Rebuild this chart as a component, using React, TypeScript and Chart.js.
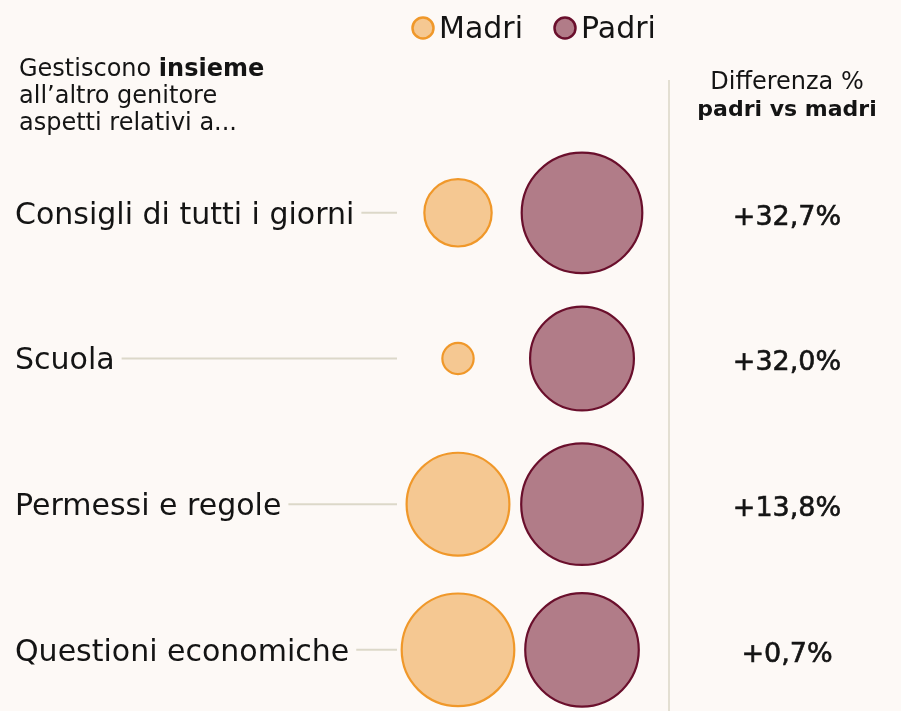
import React, { useEffect, useRef } from "react";
import { Chart, registerables } from "chart.js";

Chart.register(...registerables);

// ---- Data ----
const categories = [
  "Consigli di tutti i giorni",
  "Scuola",
  "Permessi e regole",
  "Questioni economiche",
];
const madri = [14.8, 3.2, 34.5, 41.4];
const padri = [47.5, 35.2, 48.3, 42.1];
const differenze = ["+32,7%", "+32,0%", "+13,8%", "+0,7%"];
const seriesNames = ["Madri", "Padri"];
const headerLeft = ["Gestiscono ", "insieme", "all\u2019altro genitore", "aspetti relativi a..."];
const headerRight = ["Differenza %", "padri vs madri"];

// ---- Style ----
const FONT = "'DejaVu Sans', sans-serif";
const BG = "#fdf9f6";
const TEXT = "#141414";
const K = 8.75; // bubble radius scale (area proportional to value)
const COLORS = {
  Madri: { fill: "#f5c892", stroke: "#f0982a" },
  Padri: { fill: "#b17c88", stroke: "#6a0f2c" },
};

const overlayPlugin = {
  id: "overlay",
  beforeDraw(chart: any) {
    const ctx = chart.ctx;
    ctx.save();
    ctx.fillStyle = BG;
    ctx.fillRect(0, 0, chart.width, chart.height);
    ctx.restore();
  },
  beforeDatasetsDraw(chart: any) {
    const ctx = chart.ctx;
    const ys = chart.scales.y;
    const area = chart.chartArea;
    ctx.save();

    // Left header
    ctx.fillStyle = TEXT;
    ctx.textAlign = "left";
    ctx.textBaseline = "alphabetic";
    ctx.font = `400 24px ${FONT}`;
    ctx.fillText(headerLeft[0], 19, 76);
    const w0 = ctx.measureText(headerLeft[0]).width;
    ctx.font = `700 24px ${FONT}`;
    ctx.fillText(headerLeft[1], 19 + w0, 76);
    ctx.font = `400 24px ${FONT}`;
    ctx.fillText(headerLeft[2], 19, 103);
    ctx.fillText(headerLeft[3], 19, 130);

    // Legend
    const legendX = [423, 565];
    seriesNames.forEach((name, i) => {
      const c = (COLORS as any)[name];
      ctx.beginPath();
      ctx.arc(legendX[i], 28, 10.5, 0, Math.PI * 2);
      ctx.fillStyle = c.fill;
      ctx.fill();
      ctx.lineWidth = 2.5;
      ctx.strokeStyle = c.stroke;
      ctx.stroke();
      ctx.fillStyle = TEXT;
      ctx.font = `400 30px ${FONT}`;
      ctx.textAlign = "left";
      ctx.fillText(name, legendX[i] + 16, 38);
    });

    // Right column divider and header
    const divX = area.right + 25;
    ctx.beginPath();
    ctx.moveTo(divX, 80);
    ctx.lineTo(divX, chart.height);
    ctx.lineWidth = 1.2;
    ctx.strokeStyle = "#d2cdbb";
    ctx.stroke();

    const colX = 787;
    ctx.textAlign = "center";
    ctx.fillStyle = TEXT;
    ctx.font = `400 24px ${FONT}`;
    ctx.fillText(headerRight[0], colX, 89);
    ctx.font = `700 22px ${FONT}`;
    ctx.fillText(headerRight[1], colX, 116);

    // Row labels, connectors, differences
    categories.forEach((cat, i) => {
      const py = ys.getPixelForValue(i);
      ctx.textAlign = "left";
      ctx.font = `400 30px ${FONT}`;
      ctx.fillStyle = TEXT;
      ctx.fillText(cat, 15, py + 11);
      const w = ctx.measureText(cat).width;
      ctx.beginPath();
      ctx.moveTo(15 + w + 7, py);
      ctx.lineTo(area.left + 1, py);
      ctx.lineWidth = 2;
      ctx.strokeStyle = "#dcd8c9";
      ctx.stroke();

      ctx.textAlign = "center";
      ctx.font = `500 27px ${FONT}`;
      ctx.fillText(differenze[i], colX, py + 12);
      ctx.lineWidth = 0.6;
      ctx.strokeStyle = TEXT;
      ctx.strokeText(differenze[i], colX, py + 12);
    });

    ctx.restore();
  },
};

export default function App() {
  const ref = useRef<HTMLCanvasElement | null>(null);

  useEffect(() => {
    document.body.style.margin = "0";
    document.body.style.background = BG;
    const canvas = ref.current;
    if (!canvas) return;
    const mk = (vals: number[], col: number) =>
      vals.map((v, i) => ({ x: col, y: i, r: K * Math.sqrt(v), v }));
    const chart = new Chart(canvas, {
      type: "bubble",
      data: {
        datasets: [
          {
            label: seriesNames[0],
            data: mk(madri, 0),
            backgroundColor: COLORS.Madri.fill,
            borderColor: COLORS.Madri.stroke,
            borderWidth: 2.2,
            clip: false as any,
          },
          {
            label: seriesNames[1],
            data: mk(padri, 1),
            backgroundColor: COLORS.Padri.fill,
            borderColor: COLORS.Padri.stroke,
            borderWidth: 2.2,
            clip: false as any,
          },
        ],
      },
      options: {
        animation: false,
        responsive: true,
        maintainAspectRatio: false,
        events: [],
        layout: { autoPadding: false, padding: { left: 396, right: 257, top: 140, bottom: 0 } },
        scales: {
          x: { type: "linear", min: -0.5, max: 1.5, display: false },
          y: { type: "linear", min: -0.5, max: 3.42, reverse: true, display: false },
        },
        plugins: {
          legend: { display: false },
          tooltip: { enabled: false },
        },
      },
      plugins: [overlayPlugin],
    });
    return () => chart.destroy();
  }, []);

  return (
    <div style={{ position: "fixed", left: 0, top: 0, width: 901, height: 711, background: BG }}>
      <canvas ref={ref} />
    </div>
  );
}
